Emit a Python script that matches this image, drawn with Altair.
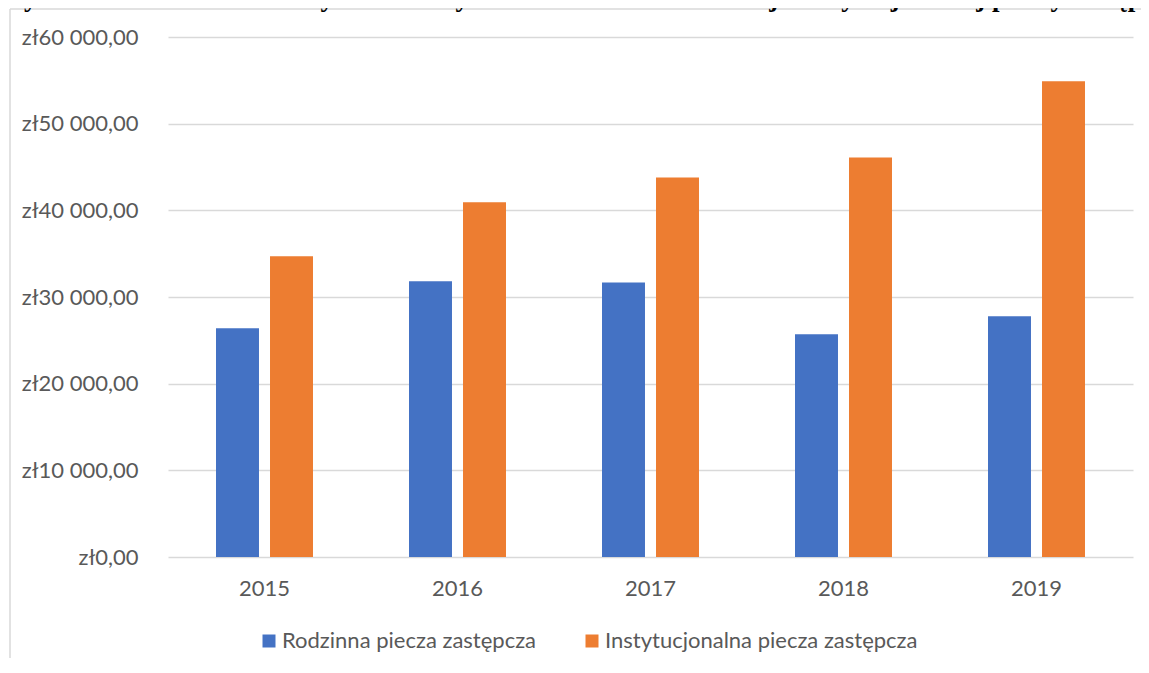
import altair as alt
import pandas as pd

# ---- data ----
years = ["2015", "2016", "2017", "2018", "2019"]
rodzinna = [26390, 31810, 31660, 25700, 27770]
instytucjonalna = [34700, 40930, 43780, 46090, 54890]
series_names = ["Rodzinna piecza zastępcza", "Instytucjonalna piecza zastępcza"]
series_colors = ["#4472C4", "#ED7D31"]
y_ticks = [0, 10000, 20000, 30000, 40000, 50000, 60000]
title_text = ("Wykres nr 18. Średnioroczny koszt utrzymania dziecka w rodzinnej "
              "i instytucjonalnej pieczy zastępczej")

rows = []
for i, yr in enumerate(years):
    rows.append({"year": yr, "series": series_names[0], "value": rodzinna[i]})
    rows.append({"year": yr, "series": series_names[1], "value": instytucjonalna[i]})
df = pd.DataFrame(rows)

W, H = 965, 520
FONT = "Lato"
FS = 22
TXT = "#595959"
FRAME = "#d9d9d9"

label_expr = ("'zł' + replace(replace(format(datum.value, ',.2f'), ',', ' '), '.', ',')")

bars = alt.Chart(df).mark_bar().encode(
    x=alt.X("year:N", sort=years,
            scale=alt.Scale(paddingInner=0, paddingOuter=0),
            axis=alt.Axis(title=None, labelAngle=0, ticks=False, domain=False,
                          grid=False, labelPadding=21, labelFont=FONT,
                          labelFontSize=FS, labelColor=TXT)),
    xOffset=alt.XOffset("series:N", sort=series_names,
                        scale=alt.Scale(paddingInner=0.204, paddingOuter=0.889)),
    y=alt.Y("value:Q",
            scale=alt.Scale(domain=[0, 60000], nice=False),
            axis=alt.Axis(title=None, values=y_ticks, labelExpr=label_expr,
                          domain=False, ticks=False, grid=True,
                          gridColor=FRAME, gridWidth=1.3,
                          labelPadding=30, labelFont=FONT, labelFontSize=FS,
                          labelColor=TXT)),
    color=alt.Color("series:N", sort=series_names,
                    scale=alt.Scale(domain=series_names, range=series_colors),
                    legend=alt.Legend(title=None, orient="none", legendX=90,
                                      legendY=593, direction="horizontal",
                                      symbolType="square", symbolSize=169,
                                      symbolStrokeWidth=0, labelFont=FONT,
                                      labelFontSize=FS, labelColor=TXT,
                                      labelOffset=2, columnPadding=44,
                                      padding=0, labelLimit=600)),
)

frame_left = alt.Chart(alt.Data(values=[{}])).mark_rule(
    color=FRAME, strokeWidth=1.5
).encode(x=alt.value(-158), y=alt.value(-28), y2=alt.value(H + 300))

frame_top = alt.Chart(alt.Data(values=[{}])).mark_rule(
    color=FRAME, strokeWidth=1.5
).encode(x=alt.value(-158), x2=alt.value(W + 8), y=alt.value(-28))

# title placed so that, as in the reference, it runs off the top and right edges
title = alt.Chart(alt.Data(values=[{}])).mark_text(
    text=title_text, font="Liberation Serif", fontWeight="bold", fontSize=27,
    align="left", baseline="alphabetic", color="black"
).encode(x=alt.value(-170), y=alt.value(-31))

chart = alt.layer(frame_left, frame_top, bars, title).properties(
    width=W, height=H,
    autosize=alt.AutoSizeParams(type="none"),
    padding={"left": 160, "top": 29, "right": 8, "bottom": 101},
).configure_view(stroke=None)

chart.save("out.html", embed_options={"renderer": "svg", "actions": False})
